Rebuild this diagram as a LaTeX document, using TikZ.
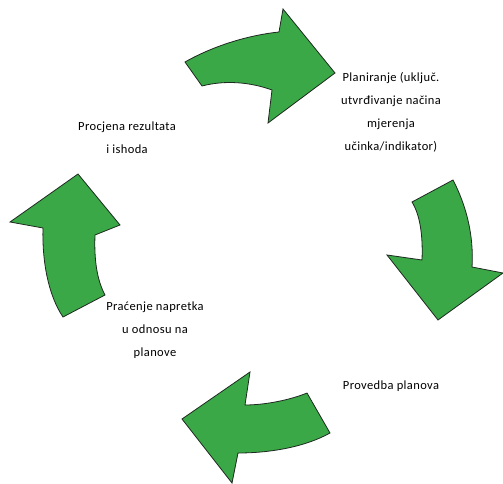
\documentclass[tikz,border=0pt]{standalone}
\usepackage{fontspec}
\setmainfont{Carlito}[LetterSpace=3]
\usepackage{xcolor}
\definecolor{cycleGreen}{HTML}{3AA846}
\definecolor{cycleEdge}{HTML}{1E2A20}
\definecolor{cycleText}{HTML}{000000}
\usepackage{tikz}
\tikzset{
    cyclearrow/.style={
        draw=cycleEdge,
        fill=cycleGreen,
        line width=0.8pt,
        line join=miter
    },
    phase/.style={
        align=center,
        font=\fontsize{12.5}{23}\selectfont,
        text=cycleText,
        inner sep=0pt
    }
}

\begin{document}
\begin{tikzpicture}[x=1pt,y=-1pt]
    \useasboundingbox (0,0) rectangle (503,484);

    % Arrows of the cycle
    \draw[cyclearrow] (185,62) .. controls (215,45) and (250,35) .. (279,32)
        -- (283,9) -- (335,73) -- (268,123) -- (272,90)
        .. controls (250,82) and (225,80) .. (202,86) -- cycle;
    \draw[cyclearrow] (453,180) .. controls (466,205) and (474,235) .. (472,267)
        -- (503,273) -- (438,320) -- (387,255) -- (422,260)
        .. controls (423,235) and (420,215) .. (412,202) -- cycle;
    \draw[cyclearrow] (330,433) .. controls (305,447) and (270,453) .. (238,453)
        -- (232,483) -- (182,419) -- (250,372) -- (245,405)
        .. controls (265,405) and (290,400) .. (307,393) -- cycle;
    \draw[cyclearrow] (63,317) -- (105,295)
        .. controls (97,280) and (94,260) .. (95,235)
        -- (120,225) -- (78,174) -- (10,222) -- (43,228)
        .. controls (42,260) and (48,295) .. (63,317) -- cycle;

    % Phases
    \node[phase] (plan) at (391,112) {Planiranje (uključ.\\utvrđivanje načina\\mjerenja\\učinka/indikator)};
    \node[phase] (impl) at (391,386) {Provedba planova};
    \node[phase] (track) at (155,330) {Praćenje napretka\\u odnosu na\\planove};
    \node[phase] (eval) at (127,138) {Procjena rezultata\\i ishoda};
\end{tikzpicture}
\end{document}
